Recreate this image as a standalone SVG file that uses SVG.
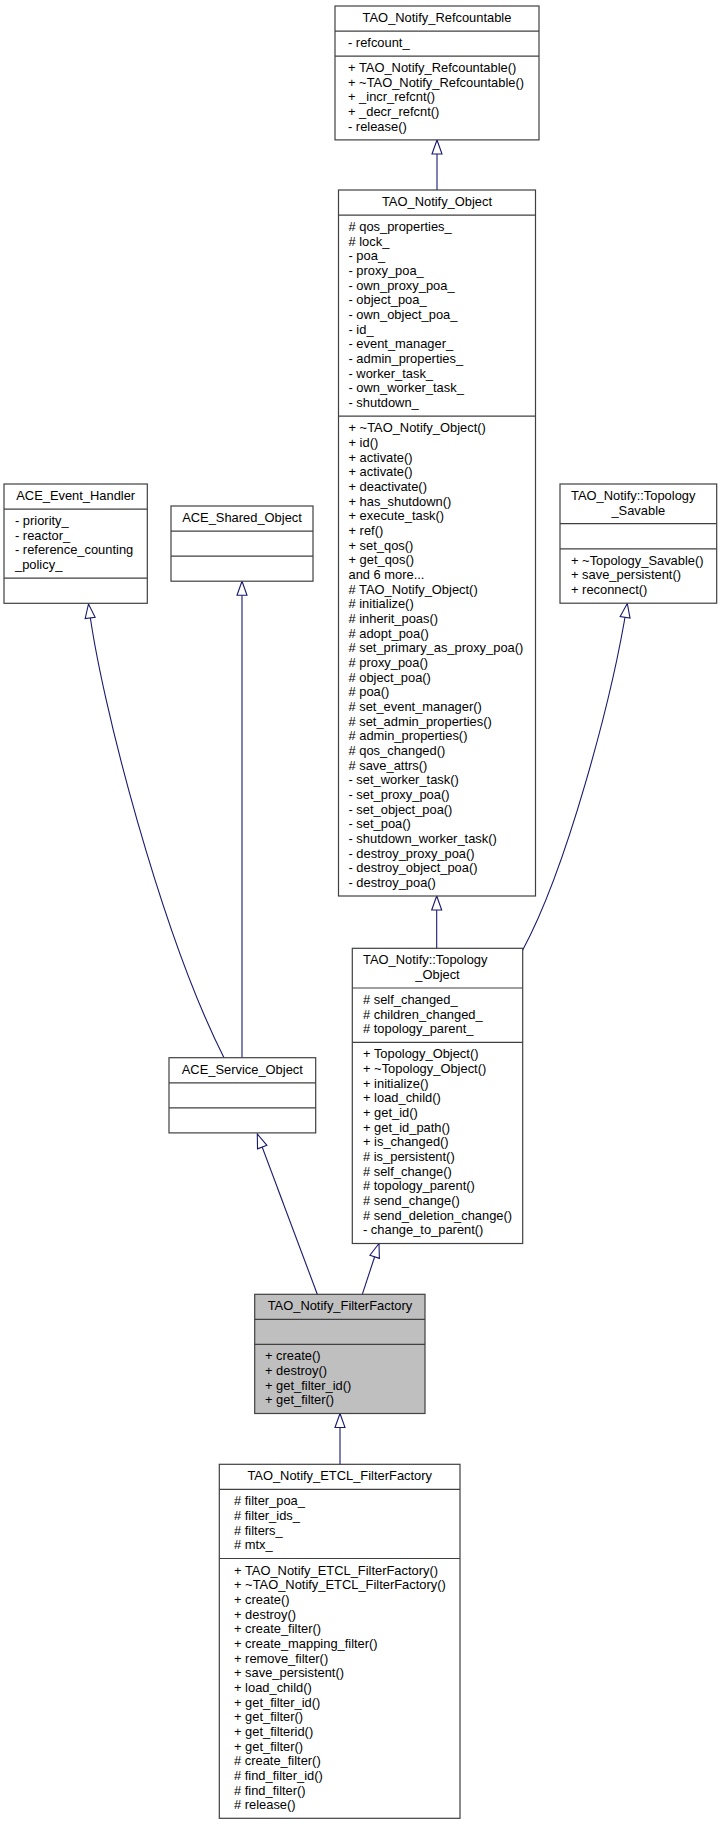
<svg xmlns="http://www.w3.org/2000/svg" width="723" height="1827" viewBox="0 0 723 1827">
<style>
text{font-family:"Liberation Sans",Arial,Helvetica,sans-serif;font-size:12.9px;fill:#000}
.c{text-anchor:middle}
.box{fill:#fff;stroke:#404040;stroke-width:1.2}
.hl{fill:#bfbfbf}
.dv{stroke:#404040;stroke-width:1.2}
.edge{fill:none;stroke:#191970;stroke-width:1.1;marker-end:url(#tri)}
</style>
<defs>
<marker id="tri" markerUnits="userSpaceOnUse" markerWidth="16" markerHeight="12" viewBox="-1 -6 16 12" refX="14" refY="0" orient="auto" overflow="visible">
<path d="M0,-5 L14,0 L0,5 Z" fill="#fff" stroke="#191970" stroke-width="1.1"/>
</marker>
</defs>
<rect width="723" height="1827" fill="#fff"/>
<g id="connectors">
<path class="edge" d="M437,190 L437,140"/>
<path class="edge" d="M436.7,948.3 L436.7,896"/>
<path class="edge" d="M522.7,950 C566,870 612,700 627.3,603.5"/>
<path class="edge" d="M224,1057.7 C162,935 100,700 88.5,604"/>
<path class="edge" d="M242,1057.7 L242,581.2"/>
<path class="edge" d="M317.3,1294.3 L257.3,1134"/>
<path class="edge" d="M362.3,1294.3 L379,1243.5"/>
<path class="edge" d="M340,1464.3 L340,1413.5"/>
</g>
<g id="refcountable">
<rect class="box" x="335" y="6" width="204" height="133.9"/>
<line class="dv" x1="335" y1="31.1" x2="539" y2="31.1"/>
<line class="dv" x1="335" y1="56.1" x2="539" y2="56.1"/>
<text class="c" x="437" y="22">TAO_Notify_Refcountable</text>
<text x="348" y="47.1">- refcount_</text>
<text x="348" y="72.1"><tspan x="348" dy="0">+ TAO_Notify_Refcountable()</tspan><tspan x="348" dy="14.67">+ ~TAO_Notify_Refcountable()</tspan><tspan x="348" dy="14.67">+ _incr_refcnt()</tspan><tspan x="348" dy="14.67">+ _decr_refcnt()</tspan><tspan x="348" dy="14.67">- release()</tspan></text>
</g>
<g id="notify_object">
<rect class="box" x="338.5" y="190" width="197" height="706"/>
<line class="dv" x1="338.5" y1="215.1" x2="535.5" y2="215.1"/>
<line class="dv" x1="338.5" y1="416.2" x2="535.5" y2="416.2"/>
<text class="c" x="437" y="206">TAO_Notify_Object</text>
<text x="348.5" y="231.1"><tspan x="348.5" dy="0"># qos_properties_</tspan><tspan x="348.5" dy="14.67"># lock_</tspan><tspan x="348.5" dy="14.67">- poa_</tspan><tspan x="348.5" dy="14.67">- proxy_poa_</tspan><tspan x="348.5" dy="14.67">- own_proxy_poa_</tspan><tspan x="348.5" dy="14.67">- object_poa_</tspan><tspan x="348.5" dy="14.67">- own_object_poa_</tspan><tspan x="348.5" dy="14.67">- id_</tspan><tspan x="348.5" dy="14.67">- event_manager_</tspan><tspan x="348.5" dy="14.67">- admin_properties_</tspan><tspan x="348.5" dy="14.67">- worker_task_</tspan><tspan x="348.5" dy="14.67">- own_worker_task_</tspan><tspan x="348.5" dy="14.67">- shutdown_</tspan></text>
<text x="348.5" y="432.2"><tspan x="348.5" dy="0">+ ~TAO_Notify_Object()</tspan><tspan x="348.5" dy="14.67">+ id()</tspan><tspan x="348.5" dy="14.67">+ activate()</tspan><tspan x="348.5" dy="14.67">+ activate()</tspan><tspan x="348.5" dy="14.67">+ deactivate()</tspan><tspan x="348.5" dy="14.67">+ has_shutdown()</tspan><tspan x="348.5" dy="14.67">+ execute_task()</tspan><tspan x="348.5" dy="14.67">+ ref()</tspan><tspan x="348.5" dy="14.67">+ set_qos()</tspan><tspan x="348.5" dy="14.67">+ get_qos()</tspan><tspan x="348.5" dy="14.67">and 6 more...</tspan><tspan x="348.5" dy="14.67"># TAO_Notify_Object()</tspan><tspan x="348.5" dy="14.67"># initialize()</tspan><tspan x="348.5" dy="14.67"># inherit_poas()</tspan><tspan x="348.5" dy="14.67"># adopt_poa()</tspan><tspan x="348.5" dy="14.67"># set_primary_as_proxy_poa()</tspan><tspan x="348.5" dy="14.67"># proxy_poa()</tspan><tspan x="348.5" dy="14.67"># object_poa()</tspan><tspan x="348.5" dy="14.67"># poa()</tspan><tspan x="348.5" dy="14.67"># set_event_manager()</tspan><tspan x="348.5" dy="14.67"># set_admin_properties()</tspan><tspan x="348.5" dy="14.67"># admin_properties()</tspan><tspan x="348.5" dy="14.67"># qos_changed()</tspan><tspan x="348.5" dy="14.67"># save_attrs()</tspan><tspan x="348.5" dy="14.67">- set_worker_task()</tspan><tspan x="348.5" dy="14.67">- set_proxy_poa()</tspan><tspan x="348.5" dy="14.67">- set_object_poa()</tspan><tspan x="348.5" dy="14.67">- set_poa()</tspan><tspan x="348.5" dy="14.67">- shutdown_worker_task()</tspan><tspan x="348.5" dy="14.67">- destroy_proxy_poa()</tspan><tspan x="348.5" dy="14.67">- destroy_object_poa()</tspan><tspan x="348.5" dy="14.67">- destroy_poa()</tspan></text>
</g>
<g id="event_handler">
<rect class="box" x="4" y="484" width="143.3" height="119.3"/>
<line class="dv" x1="4" y1="509.1" x2="147.3" y2="509.1"/>
<line class="dv" x1="4" y1="578.2" x2="147.3" y2="578.2"/>
<text class="c" x="75.7" y="500">ACE_Event_Handler</text>
<text x="15" y="525.1"><tspan x="15" dy="0">- priority_</tspan><tspan x="15" dy="14.67">- reactor_</tspan><tspan x="15" dy="14.67">- reference_counting</tspan><tspan x="15" dy="14.67">_policy_</tspan></text>
</g>
<g id="shared_object">
<rect class="box" x="171" y="506" width="142" height="75.2"/>
<line class="dv" x1="171" y1="531.1" x2="313" y2="531.1"/>
<line class="dv" x1="171" y1="556.1" x2="313" y2="556.1"/>
<text class="c" x="242" y="522">ACE_Shared_Object</text>
</g>
<g id="topology_savable">
<rect class="box" x="560" y="484" width="156.7" height="119.2"/>
<line class="dv" x1="560" y1="523.7" x2="716.7" y2="523.7"/>
<line class="dv" x1="560" y1="548.8" x2="716.7" y2="548.8"/>
<text x="571" y="500">TAO_Notify::Topology</text>
<text class="c" x="638.3" y="514.7">_Savable</text>
<text x="571" y="564.8"><tspan x="571" dy="0">+ ~Topology_Savable()</tspan><tspan x="571" dy="14.67">+ save_persistent()</tspan><tspan x="571" dy="14.67">+ reconnect()</tspan></text>
</g>
<g id="topology_object">
<rect class="box" x="352.3" y="948.3" width="170.4" height="295.2"/>
<line class="dv" x1="352.3" y1="988" x2="522.7" y2="988"/>
<line class="dv" x1="352.3" y1="1042.4" x2="522.7" y2="1042.4"/>
<text x="363" y="964.3">TAO_Notify::Topology</text>
<text class="c" x="437.5" y="979">_Object</text>
<text x="363" y="1004"><tspan x="363" dy="0"># self_changed_</tspan><tspan x="363" dy="14.67"># children_changed_</tspan><tspan x="363" dy="14.67"># topology_parent_</tspan></text>
<text x="363" y="1058.4"><tspan x="363" dy="0">+ Topology_Object()</tspan><tspan x="363" dy="14.67">+ ~Topology_Object()</tspan><tspan x="363" dy="14.67">+ initialize()</tspan><tspan x="363" dy="14.67">+ load_child()</tspan><tspan x="363" dy="14.67">+ get_id()</tspan><tspan x="363" dy="14.67">+ get_id_path()</tspan><tspan x="363" dy="14.67">+ is_changed()</tspan><tspan x="363" dy="14.67"># is_persistent()</tspan><tspan x="363" dy="14.67"># self_change()</tspan><tspan x="363" dy="14.67"># topology_parent()</tspan><tspan x="363" dy="14.67"># send_change()</tspan><tspan x="363" dy="14.67"># send_deletion_change()</tspan><tspan x="363" dy="14.67">- change_to_parent()</tspan></text>
</g>
<g id="service_object">
<rect class="box" x="169" y="1057.7" width="146.7" height="75.2"/>
<line class="dv" x1="169" y1="1082.8" x2="315.7" y2="1082.8"/>
<line class="dv" x1="169" y1="1107.8" x2="315.7" y2="1107.8"/>
<text class="c" x="242.3" y="1073.7">ACE_Service_Object</text>
</g>
<g id="filter_factory">
<rect class="box hl" x="254.7" y="1294.3" width="170.3" height="119.2"/>
<line class="dv" x1="254.7" y1="1319.4" x2="425" y2="1319.4"/>
<line class="dv" x1="254.7" y1="1344.4" x2="425" y2="1344.4"/>
<text class="c" x="339.9" y="1310.3">TAO_Notify_FilterFactory</text>
<text x="265" y="1360.4"><tspan x="265" dy="0">+ create()</tspan><tspan x="265" dy="14.67">+ destroy()</tspan><tspan x="265" dy="14.67">+ get_filter_id()</tspan><tspan x="265" dy="14.67">+ get_filter()</tspan></text>
</g>
<g id="etcl_filter_factory">
<rect class="box" x="219.3" y="1464.3" width="240.7" height="354"/>
<line class="dv" x1="219.3" y1="1489.4" x2="460" y2="1489.4"/>
<line class="dv" x1="219.3" y1="1558.5" x2="460" y2="1558.5"/>
<text class="c" x="339.7" y="1480.3">TAO_Notify_ETCL_FilterFactory</text>
<text x="234" y="1505.4"><tspan x="234" dy="0"># filter_poa_</tspan><tspan x="234" dy="14.67"># filter_ids_</tspan><tspan x="234" dy="14.67"># filters_</tspan><tspan x="234" dy="14.67"># mtx_</tspan></text>
<text x="234" y="1574.5"><tspan x="234" dy="0">+ TAO_Notify_ETCL_FilterFactory()</tspan><tspan x="234" dy="14.67">+ ~TAO_Notify_ETCL_FilterFactory()</tspan><tspan x="234" dy="14.67">+ create()</tspan><tspan x="234" dy="14.67">+ destroy()</tspan><tspan x="234" dy="14.67">+ create_filter()</tspan><tspan x="234" dy="14.67">+ create_mapping_filter()</tspan><tspan x="234" dy="14.67">+ remove_filter()</tspan><tspan x="234" dy="14.67">+ save_persistent()</tspan><tspan x="234" dy="14.67">+ load_child()</tspan><tspan x="234" dy="14.67">+ get_filter_id()</tspan><tspan x="234" dy="14.67">+ get_filter()</tspan><tspan x="234" dy="14.67">+ get_filterid()</tspan><tspan x="234" dy="14.67">+ get_filter()</tspan><tspan x="234" dy="14.67"># create_filter()</tspan><tspan x="234" dy="14.67"># find_filter_id()</tspan><tspan x="234" dy="14.67"># find_filter()</tspan><tspan x="234" dy="14.67"># release()</tspan></text>
</g>
</svg>
